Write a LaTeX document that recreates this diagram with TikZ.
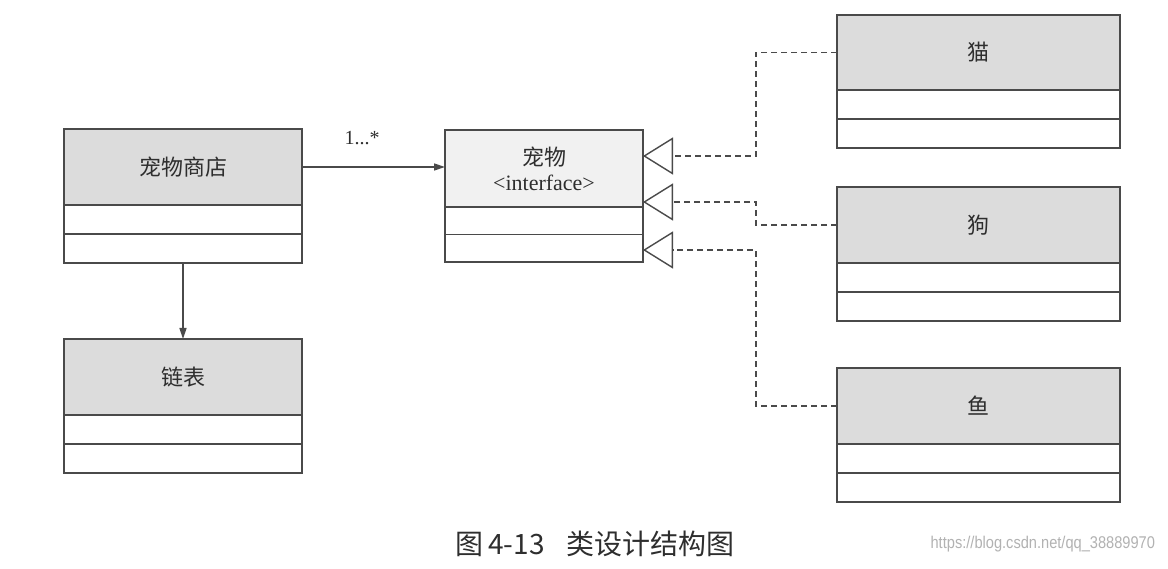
\documentclass[tikz,border=0pt]{standalone}
\usepackage{fontspec}
\setmainfont{Liberation Serif}
\newfontfamily\cjk{Noto Sans CJK SC}
\newfontfamily\wmfont{Liberation Sans}
\usetikzlibrary{arrows.meta}
\definecolor{ln}{HTML}{4A4A4A}
\definecolor{txt}{HTML}{2E2E2E}
\definecolor{hdrgray}{HTML}{DCDCDC}
\definecolor{hdrlight}{HTML}{F1F1F1}
\begin{document}
\begin{tikzpicture}[x=1pt,y=-1pt,
  box/.style={draw=ln, line width=1.4pt, inner sep=0pt, outer sep=0pt, anchor=north},
  hdr/.style={box, fill=hdrgray, minimum height=76pt, text=txt, font=\cjk\fontsize{22}{26}\selectfont, align=center},
  cmp/.style={box, fill=white, minimum height=29pt},
  wide/.style={minimum width=238pt},
  mid/.style={minimum width=198pt},
  right/.style={minimum width=283pt},
  assoc/.style={draw=ln, line width=1.4pt, -{Triangle[length=11pt,width=7pt]}},
  real/.style={draw=ln, line width=1.4pt, dash pattern=on 6pt off 4pt, -{Triangle[open,length=30pt,width=37pt]}}
]
\useasboundingbox[fill=white] (0,0) rectangle (1168,569);

% Pet shop
\node[hdr, wide] (shop) at (183,129) {宠物商店};
\node[cmp, wide] (shopA) at (shop.south) {};
\node[cmp, wide] (shopB) at (shopA.south) {};

% Linked list
\node[hdr, wide] (list) at (183,339) {链表};
\node[cmp, wide] (listA) at (list.south) {};
\node[cmp, wide] (listB) at (listA.south) {};

% Pet interface
\node[hdr, mid, fill=hdrlight, minimum height=77pt] (pet) at (544,130) {宠物\\[-1pt]{\rmfamily <interface>}};
\node[cmp, mid, minimum height=27.5pt] (petA) at (pet.south) {};
\node[cmp, mid, minimum height=27.5pt] (petB) at (petA.south) {};

% Cat
\node[hdr, right, minimum height=75pt] (cat) at (978.5,15) {猫};
\node[cmp, right] (catA) at (cat.south) {};
\node[cmp, right] (catB) at (catA.south) {};

% Dog
\node[hdr, right] (dog) at (978.5,187) {狗};
\node[cmp, right] (dogA) at (dog.south) {};
\node[cmp, right] (dogB) at (dogA.south) {};

% Fish
\node[hdr, right] (fish) at (978.5,368) {鱼};
\node[cmp, right] (fishA) at (fish.south) {};
\node[cmp, right] (fishB) at (fishA.south) {};

% connectors
\draw[assoc] (shop.east) -- (shop.east -| pet.west)
  node[pos=0.42, above=18pt, font=\fontsize{20}{22}\selectfont, text=txt] (mult) {1...*};
\draw[assoc] (shopB.south) -- (list.north);

\coordinate (t1) at (pet.east |- 0,156);
\coordinate (t2) at (pet.east |- 0,202);
\coordinate (t3) at (pet.east |- 0,250);
\coordinate (j1) at (756,0);

\draw[real] (cat.west) -- (cat.west -| j1) |- (t1);
\draw[real] (dog.west) -- (dog.west -| j1) |- (t2);
\draw[real] (fish.west) -- (fish.west -| j1) |- (t3);

% caption
\node[font=\cjk\fontsize{28}{32}\selectfont, text=txt] (cap) at (595,544) {图\hspace{5pt}4-13\hspace{22pt}类设计结构图};
\node[font=\wmfont\fontsize{17}{20}\selectfont, text=black!30, xscale=0.86, anchor=east] (wm) at (1158,544) {https://blog.csdn.net/qq\_38889970};
\end{tikzpicture}
\end{document}
